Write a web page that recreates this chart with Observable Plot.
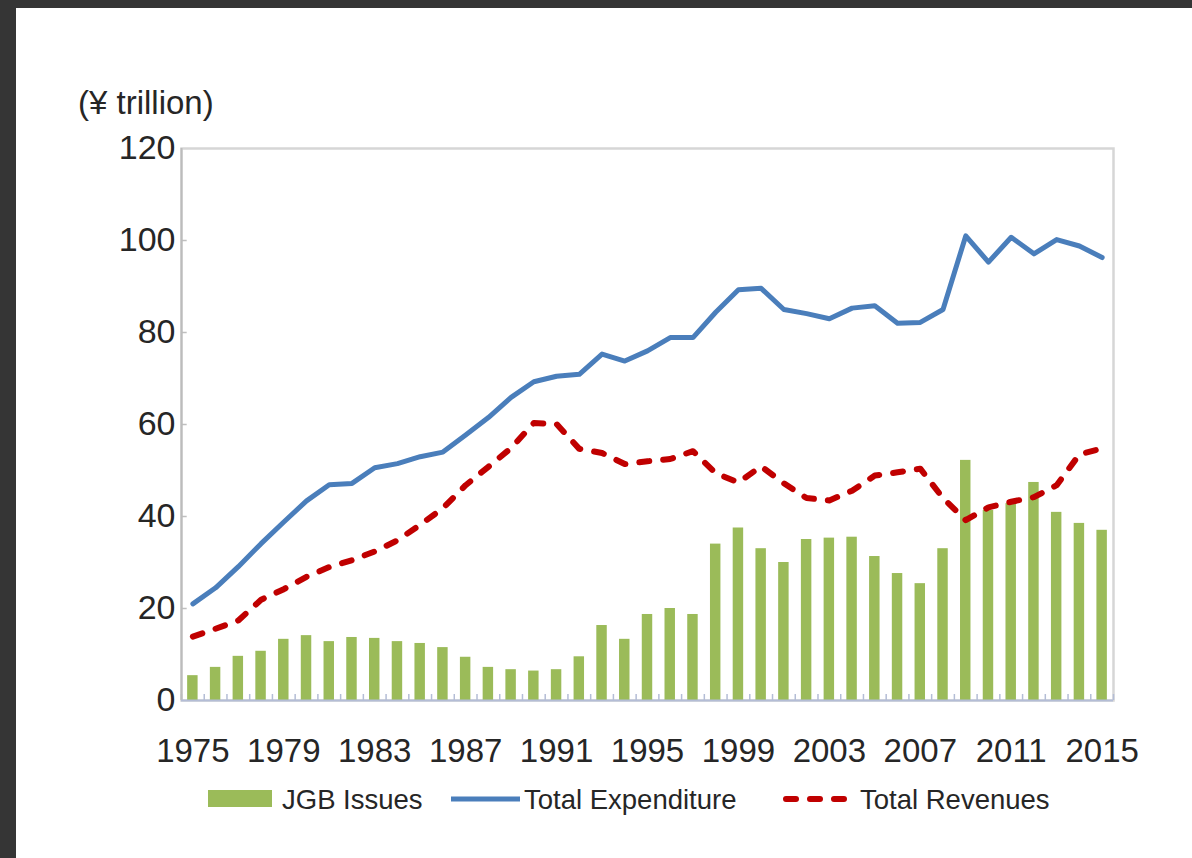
<!DOCTYPE html>
<html><head><meta charset="utf-8">
<script src="https://cdn.jsdelivr.net/npm/d3@7"></script>
<script src="https://cdn.jsdelivr.net/npm/@observablehq/plot@0.6"></script>
<style>
html,body{margin:0;padding:0;background:#353535;width:1192px;height:858px;overflow:hidden;font-family:"Liberation Sans",Arial,sans-serif;color:#262626;}
#panel{position:absolute;left:16px;top:8px;right:0;bottom:0;background:#fff;}
#unit{position:absolute;left:78px;top:86px;font-size:33px;line-height:33px;white-space:nowrap;}
#chart{position:absolute;left:0;top:0;}
.lg{position:absolute;font-size:27.5px;line-height:28px;top:786px;white-space:nowrap;}
.sw{position:absolute;}
</style>
</head><body>
<div id="panel"></div>
<div id="unit">(¥ trillion)</div>
<div id="chart"></div>
<svg class="sw" style="left:0;top:0" width="1192" height="858">
  <rect x="208" y="790" width="64" height="17" fill="#9bbb59"></rect>
  <line x1="451" x2="520" y1="799" y2="799" stroke="#4a7ebb" stroke-width="5"></line>
  <line x1="786" x2="856" y1="799" y2="799" stroke="#c00000" stroke-width="6" stroke-dasharray="10,14" stroke-linecap="round"></line>
</svg>
<div class="lg" style="left:282px">JGB Issues</div>
<div class="lg" style="left:524px">Total Expenditure</div>
<div class="lg" style="left:860px">Total Revenues</div>
<script>
const years = [1975,1976,1977,1978,1979,1980,1981,1982,1983,1984,1985,1986,1987,1988,1989,1990,1991,1992,1993,1994,1995,1996,1997,1998,1999,2000,2001,2002,2003,2004,2005,2006,2007,2008,2009,2010,2011,2012,2013,2014,2015];
const jgbIssues = [5.4,7.2,9.6,10.7,13.3,14.1,12.8,13.7,13.5,12.8,12.4,11.5,9.4,7.2,6.7,6.4,6.7,9.5,16.3,13.3,18.7,20.0,18.7,34.0,37.5,33.0,30.0,35.0,35.3,35.5,31.3,27.6,25.4,33.0,52.2,41.3,42.8,47.4,40.9,38.5,37.0];
const totalExpenditure = [21.0,24.5,29.1,34.1,38.8,43.4,46.9,47.2,50.6,51.5,53.0,54.0,57.7,61.5,65.9,69.3,70.5,70.9,75.3,73.8,76.0,78.9,78.9,84.4,89.3,89.6,85.0,84.1,83.0,85.3,85.8,82.0,82.2,85.0,101.0,95.3,100.7,97.1,100.2,98.8,96.3];
const totalRevenues = [13.9,15.6,17.4,21.9,24.2,26.9,29.0,30.5,32.4,34.8,38.2,41.8,46.8,50.8,54.9,60.3,60.1,54.7,53.8,51.4,52.0,52.5,54.2,49.4,47.4,50.9,47.2,44.0,43.5,45.6,48.9,49.6,50.4,44.0,39.2,42.0,43.2,44.2,46.8,53.5,54.8];
const xTickYears = [1975,1979,1983,1987,1991,1995,1999,2003,2007,2011,2015];
const yTicks = [0,20,40,60,80,100,120];

const data = years.map((y, i) => ({year: y, jgb: jgbIssues[i], exp: totalExpenditure[i], rev: totalRevenues[i]}));
const bounds = [years[0] - 0.5, ...years.map(y => y + 0.5)];

const chart = Plot.plot({
  width: 1192, height: 780,
  marginLeft: 181, marginRight: 79, marginTop: 148, marginBottom: 80,
  style: {fontFamily: "Liberation Sans, Arial, sans-serif", color: "#262626", background: "transparent", overflow: "visible"},
  x: {domain: [years[0] - 0.5, years[years.length - 1] + 0.5], label: null},
  y: {domain: [0, 120], label: null},
  marks: [
    Plot.frame({stroke: "#d6d6d6", strokeWidth: 2.5}),
    Plot.rectY(data, {x1: d => d.year - 0.23, x2: d => d.year + 0.23, y1: 0, y2: "jgb", fill: "#9bbb59"}),
    Plot.ruleX(bounds, {y1: 0, y2: 1.3, stroke: "#b4bdd6", strokeWidth: 1.5}),
    Plot.ruleY(yTicks.filter(v => v > 0 && v < 120), {x1: years[0] - 0.5, x2: years[0] - 0.25, stroke: "#bfbfbf", strokeWidth: 1.5}),
    Plot.ruleX([years[0] - 0.5], {stroke: "#bcbcbc", strokeWidth: 2}),
    Plot.line(data, {x: "year", y: "exp", stroke: "#4a7ebb", strokeWidth: 5, strokeLinejoin: "round"}),
    Plot.line(data, {x: "year", y: "rev", stroke: "#c00000", strokeWidth: 6, strokeDasharray: "10,14", strokeLinecap: "round", strokeLinejoin: "round"}),
    Plot.ruleY([0], {stroke: "#b4bdd6", strokeWidth: 2}),
    Plot.axisX({ticks: xTickYears, tickFormat: d => String(d), tickSize: 0, tickPadding: 38, fontSize: 33, label: null}),
    Plot.axisY({ticks: yTicks, tickSize: 0, tickPadding: 6, fontSize: 34, label: null})
  ]
});
document.getElementById("chart").appendChild(chart);
</script>
</body></html>
